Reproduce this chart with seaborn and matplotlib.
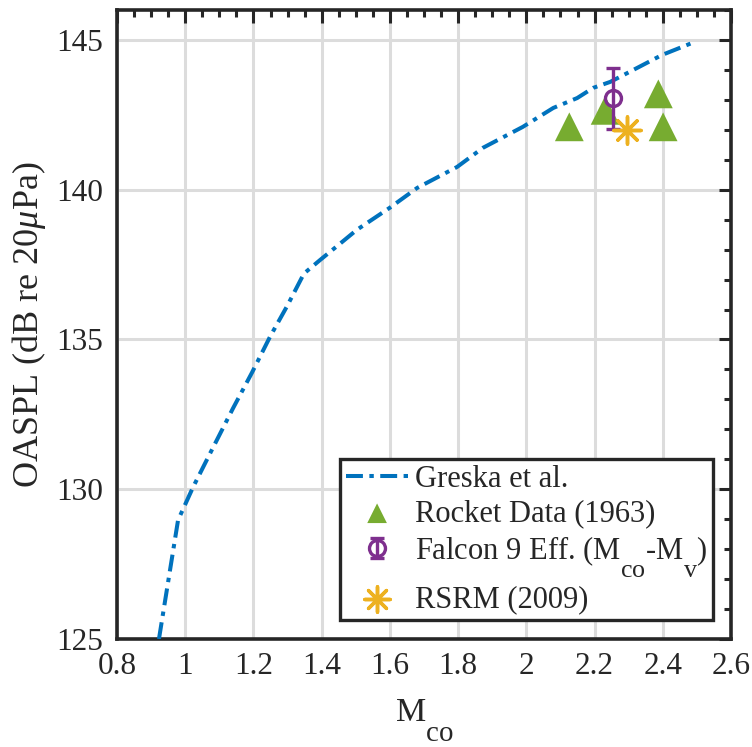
import numpy as np
import pandas as pd
import matplotlib
matplotlib.use("Agg")
import matplotlib.pyplot as plt
import seaborn as sns
from matplotlib.ticker import MultipleLocator
from matplotlib.container import ErrorbarContainer
from matplotlib.legend_handler import HandlerErrorbar

# MATLAB-like subscripts: larger and lower
try:
    import matplotlib._mathtext as _mt
    _mt.SHRINK_FACTOR = 0.85
    _mt.FontConstantsBase.sub1 = 1.25
    _mt.FontConstantsBase.sub2 = 1.25
except Exception:
    pass

# ---- data ----
greska_M = [0.923, 0.979, 1.023, 1.073, 1.14, 1.196, 1.249, 1.298, 1.348, 1.395,
            1.454, 1.503, 1.60, 1.68, 1.797, 1.873, 1.99, 2.079, 2.149, 2.196,
            2.246, 2.275, 2.398, 2.486]
greska_oaspl = [125.0, 128.97, 130.07, 131.2, 132.7, 133.9, 135.1, 136.1, 137.2, 137.65,
                138.2, 138.66, 139.4, 140.06, 140.76, 141.4, 142.1, 142.73, 143.06, 143.4,
                143.6, 143.77, 144.5, 144.9]
rocket_M = [2.126, 2.231, 2.387, 2.401]
rocket_oaspl = [142.1, 142.65, 143.2, 142.1]
falcon_M = [2.254]
falcon_oaspl = [143.05]
falcon_err = [1.03]
rsrm_M = [2.296]
rsrm_oaspl = [142.0]

blue = "#0072BD"
green = "#77AC30"
purple = "#7E2F8E"
orange = "#EDB120"
dark = "#262626"

sns.set_theme(style="white")
plt.rcParams['font.family'] = ['Liberation Serif', 'DejaVu Serif']
plt.rcParams['mathtext.fontset'] = 'custom'
plt.rcParams['mathtext.rm'] = 'Liberation Serif'
plt.rcParams['mathtext.it'] = 'Liberation Serif:italic'
plt.rcParams['mathtext.bf'] = 'Liberation Serif:bold'

fig = plt.figure(figsize=(7.52, 7.47), dpi=100)
ax = fig.add_axes([117/752, 1-639/747, (731-117)/752, (639-10)/747])

df_line = pd.DataFrame({"M": greska_M, "OASPL": greska_oaspl})
sns.lineplot(data=df_line, x="M", y="OASPL", ax=ax, color=blue, lw=2.9,
             label="Greska et al.", sort=False, zorder=3)
greska_line = ax.lines[-1]
greska_line.set_dashes([4.2, 1.6, 1.1, 1.6])

df_r = pd.DataFrame({"M": rocket_M, "OASPL": rocket_oaspl})
sns.scatterplot(data=df_r, x="M", y="OASPL", ax=ax, marker="^", s=430,
                color=green, edgecolor="none", label="Rocket Data (1963)", zorder=4)
rocket_coll = ax.collections[-1]

falcon = ax.errorbar(falcon_M, falcon_oaspl, yerr=falcon_err, fmt="o", mfc="none",
                     mec=purple, ecolor=purple, ms=11.5, mew=2.4, elinewidth=2.4,
                     capsize=5, capthick=2.4,
                     label=r"Falcon 9 Eff. (M$_{\rm co}$-M$_{\rm v}$)", zorder=5)

df_s = pd.DataFrame({"M": rsrm_M, "OASPL": rsrm_oaspl})
sns.scatterplot(data=df_s, x="M", y="OASPL", ax=ax, marker=(8, 2, 0), s=380,
                color=orange, edgecolor=orange, linewidth=2.5, label="RSRM (2009)", zorder=6)
rsrm_coll = ax.collections[-1]

ax.set_xlim(0.8, 2.6)
ax.set_ylim(125, 146)
ax.xaxis.set_minor_locator(MultipleLocator(0.05))
ax.yaxis.set_minor_locator(MultipleLocator(1))
ax.set_xticks(np.arange(0.8, 2.61, 0.2))
ax.set_xticklabels(["0.8", "1", "1.2", "1.4", "1.6", "1.8", "2", "2.2", "2.4", "2.6"])
ax.set_yticks([125, 130, 135, 140, 145])

ax.grid(True, which="major", color="#dcdcdc", lw=2.2)
ax.set_axisbelow(True)
for sp in ax.spines.values():
    sp.set_visible(True)
    sp.set_color(dark)
    sp.set_linewidth(2.6)
ax.tick_params(which="both", direction="in", top=True, right=True,
               color=dark, width=2.2, labelsize=22.5, labelcolor=dark)
ax.tick_params(which="major", length=9)
ax.tick_params(axis="x", which="major", pad=9)
ax.tick_params(axis="y", which="major", pad=10)
ax.tick_params(which="minor", length=5)

ax.set_xlabel(r"M$_{\rm co}$", fontsize=24.5, color=dark, labelpad=12)
ax.set_ylabel(r"OASPL (dB re 20$\mu$Pa)", fontsize=26, color=dark, labelpad=6)

handles = [greska_line, rocket_coll, falcon, rsrm_coll]
labels = ["Greska et al.", "Rocket Data (1963)",
          r"Falcon 9 Eff. (M$_{\rm co}$-M$_{\rm v}$)", "RSRM (2009)"]
leg = ax.legend(handles, labels, loc="lower right", bbox_to_anchor=(0.971, 0.030),
                borderaxespad=0, fontsize=22, frameon=True, fancybox=False,
                framealpha=1, handlelength=2.05, handletextpad=0.2, borderpad=0.2,
                labelspacing=0.18,
                handler_map={ErrorbarContainer: HandlerErrorbar(yerr_size=0.32)})
leg.get_frame().set_edgecolor(dark)
leg.get_frame().set_linewidth(2.4)
lh = leg.legend_handles
lh[1].set_sizes([200])
lh[3].set_sizes([330])

fig.savefig("out.png", dpi=100)
